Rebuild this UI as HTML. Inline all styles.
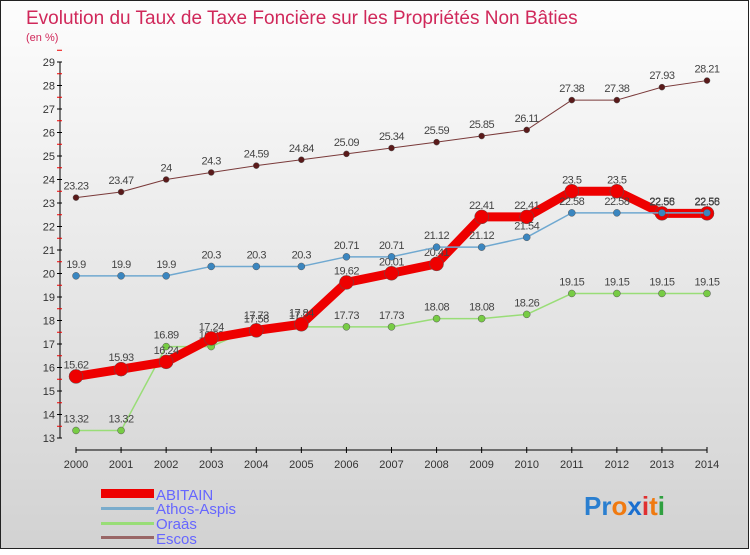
<!DOCTYPE html>
<html><head><meta charset="utf-8"><style>
body{margin:0;width:750px;height:550px;overflow:hidden;font-family:"Liberation Sans",sans-serif}
</style></head><body>
<svg id="c" width="750" height="550" xmlns="http://www.w3.org/2000/svg">
<defs><linearGradient id="bg" x1="0" y1="0" x2="0" y2="1"><stop offset="0" stop-color="#fdfdfd"/><stop offset="1" stop-color="#d2d2d2"/></linearGradient></defs>
<rect x="0.5" y="0.5" width="748" height="548" fill="url(#bg)" stroke="#222"/>
<text x="26" y="24" font-size="19" fill="#d0285a">Evolution du Taux de Taxe Foncière sur les Propriétés Non Bâties</text>
<text x="26" y="41" font-size="11" fill="#d0285a">(en %)</text>
<g id="axes"></g><g id="series"></g>
<g>
<rect x="101" y="489" width="53" height="9" fill="#e00"/>
<text x="156" y="500" font-size="15" fill="#6666ff">ABITAIN</text>
<rect x="101" y="507" width="53" height="3" fill="#7aaccc"/>
<text x="156" y="514" font-size="15" fill="#6666ff">Athos-Aspis</text>
<rect x="101" y="522" width="53" height="3" fill="#99dd77"/>
<text x="156" y="529" font-size="15" fill="#6666ff">Oraàs</text>
<rect x="101" y="536" width="53" height="3" fill="#996666"/>
<text x="156" y="544" font-size="15" fill="#6666ff">Escos</text>
</g>
<text x="584" y="515" font-size="26" font-weight="bold"><tspan fill="#2a7fd0">Pr</tspan><tspan fill="#f07a10">o</tspan><tspan fill="#1a6fd0">x</tspan><tspan fill="#e03030">i</tspan><tspan fill="#f07a10">t</tspan><tspan fill="#30a040">i</tspan></text>
</svg>
<script>
const years=[2000,2001,2002,2003,2004,2005,2006,2007,2008,2009,2010,2011,2012,2013,2014];
const yTicks=[13,14,15,16,17,18,19,20,21,22,23,24,25,26,27,28,29];
const abitain=[15.62,15.93,16.24,17.24,17.58,17.84,19.62,20.01,20.41,22.41,22.41,23.5,23.5,22.56,22.56];
const athos=[19.9,19.9,19.9,20.3,20.3,20.3,20.71,20.71,21.12,21.12,21.54,22.58,22.58,22.58,22.58];
const oraas=[13.32,13.32,16.89,16.89,17.73,17.73,17.73,17.73,18.08,18.08,18.26,19.15,19.15,19.15,19.15];
const escos=[23.23,23.47,24,24.3,24.59,24.84,25.09,25.34,25.59,25.85,26.11,27.38,27.38,27.93,28.21];
const NS="http://www.w3.org/2000/svg";
const X=i=>76+i*(707-76)/(years.length-1);
const Y=v=>438-(v-13)*23.5;
function mk(t,a,p){const e=document.createElementNS(NS,t);for(const k in a)e.setAttribute(k,a[k]);p.appendChild(e);return e;}
const ax=document.getElementById('axes');
let l=mk('line',{x1:60,y1:Y(29),x2:60,y2:Y(13),stroke:'#000'},ax);


yTicks.forEach(v=>{
 mk('line',{x1:57,x2:62,y1:Y(v),y2:Y(v),stroke:'#000'},ax);
 mk('line',{x1:57,x2:62,y1:Y(v+0.5),y2:Y(v+0.5),stroke:'#e00'},ax);
 const t=mk('text',{x:55,y:Y(v)+4,'font-size':11,'text-anchor':'end',fill:'#333'},ax);t.textContent=v;
 
 
});
l=mk('line',{x1:X(0),y1:450,x2:X(14),y2:450,stroke:'#000'},ax);


years.forEach((y,i)=>{
 mk('line',{x1:X(i),x2:X(i),y1:447,y2:453,stroke:'#000'},ax);
 const t=mk('text',{x:X(i),y:468,'font-size':11,'text-anchor':'middle',fill:'#333'},ax);t.textContent=y;
 
 
});
const sg=document.getElementById('series');
function draw(vals,name,col,w,r,dot){
 const g=mk('g',{},sg);
 
 
 const p=mk('polyline',{points:vals.map((v,i)=>X(i)+','+Y(v)).join(' '),fill:'none',stroke:col,'stroke-width':w,'stroke-linejoin':'round'},g);
 
 
 vals.forEach((v,i)=>{
  const c=mk('circle',{cx:X(i),cy:Y(v),r:r,fill:dot,stroke:'#555','stroke-width':0.5},g);
  
  
  const t=mk('text',{x:X(i),y:Y(v)-8,'font-size':11,'text-anchor':'middle',fill:'#444','letter-spacing':'-0.5'},g);
  t.textContent=v;
  
  
 });
}
draw(escos,'escos','#7a3a3a',1,3,'#5a1a1a');
draw(oraas,'oraas','#99dd77',1.5,3.5,'#77cc44');
draw(abitain,'abitain','#ee0000',9,7,'#ee0000');
draw(athos,'athos','#6fa8d0',1.5,3.5,'#3a86c0');
</script>
</body></html>
